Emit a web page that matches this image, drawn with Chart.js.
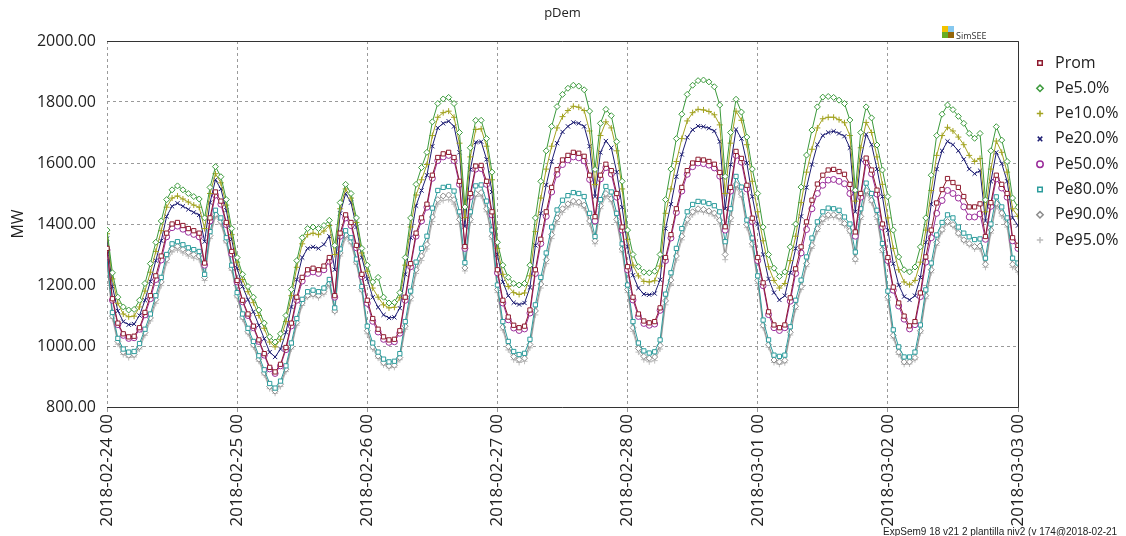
<!DOCTYPE html>
<html>
<head>
<meta charset="utf-8">
<title>pDem</title>
<script src="https://cdn.jsdelivr.net/npm/chart.js@4.4.0/dist/chart.umd.min.js"></script>
<style>
  html, body { margin: 0; padding: 0; background: #fff; }
  #wrap { position: relative; width: 1126px; height: 536px; }
</style>
</head>
<body>
<div id="wrap"><canvas id="chart" width="1126" height="536"></canvas></div>
<script>
// x tick labels, one per day (every 24 hourly samples)
const dayLabels = ["2018-02-24 00", "2018-02-25 00", "2018-02-26 00", "2018-02-27 00",
  "2018-02-28 00", "2018-03-01 00", "2018-03-02 00", "2018-03-03 00"];

const seriesNames = ["Prom", "Pe5.0%", "Pe10.0%", "Pe20.0%", "Pe50.0%", "Pe80.0%", "Pe90.0%", "Pe95.0%"];

// hourly demand in MW, one row per day
const prom = [
  1320,1155,1075,1040,1030,1032,1060,1110,1165,1230,1295,1370,1400,1405,1395,1385,1378,1370,1272,1420,1505,1475,1405,1310,
  1215,1150,1105,1065,1020,975,930,915,940,995,1075,1160,1225,1250,1255,1250,1262,1290,1165,1370,1430,1405,1330,1235,
  1150,1090,1055,1030,1020,1022,1050,1160,1270,1370,1420,1465,1560,1618,1630,1635,1618,1540,1326,1500,1590,1592,1540,1440,
  1250,1150,1095,1068,1060,1065,1118,1250,1350,1440,1520,1578,1610,1625,1635,1632,1622,1560,1424,1560,1596,1575,1500,1390,
  1260,1160,1105,1082,1076,1080,1125,1290,1365,1450,1520,1575,1600,1612,1610,1605,1596,1569,1391,1520,1638,1615,1527,1419,
  1290,1207,1112,1069,1060,1069,1158,1253,1325,1407,1478,1531,1560,1577,1579,1572,1563,1530,1374,1500,1616,1577,1511,1400,
  1290,1193,1141,1098,1066,1080,1174,1292,1380,1469,1513,1549,1536,1520,1490,1456,1456,1466,1359,1470,1560,1530,1500,1355,1330
];
const pe5 = [
  1380,1240,1160,1128,1118,1120,1150,1205,1270,1340,1410,1480,1512,1525,1512,1500,1490,1482,1420,1520,1588,1555,1480,1385,
  1290,1235,1195,1160,1118,1075,1030,1013,1040,1100,1185,1280,1355,1385,1390,1385,1395,1412,1330,1470,1530,1500,1420,1320,
  1265,1210,1225,1160,1141,1143,1175,1290,1420,1530,1585,1635,1735,1795,1810,1815,1795,1700,1456,1650,1740,1740,1680,1570,
  1340,1265,1225,1205,1200,1205,1265,1420,1540,1640,1720,1785,1825,1845,1855,1852,1840,1770,1579,1730,1776,1755,1670,1540,
  1380,1300,1260,1242,1240,1245,1300,1480,1580,1680,1760,1825,1855,1870,1872,1866,1850,1790,1556,1700,1809,1767,1685,1580,
  1500,1390,1300,1255,1228,1243,1325,1400,1521,1626,1708,1784,1816,1818,1815,1806,1795,1741,1511,1700,1784,1748,1659,1577,
  1490,1380,1292,1250,1243,1259,1325,1420,1560,1690,1760,1790,1775,1753,1730,1697,1681,1697,1479,1640,1719,1675,1605,1485,1455
];
const pe10 = [
  1368,1220,1140,1105,1096,1098,1128,1180,1242,1310,1378,1455,1485,1492,1482,1472,1462,1455,1385,1500,1565,1535,1462,1365,
  1275,1218,1178,1142,1100,1058,1013,997,1022,1080,1165,1258,1335,1365,1370,1365,1377,1395,1300,1450,1515,1485,1405,1305,
  1245,1190,1160,1135,1125,1127,1158,1265,1390,1495,1545,1595,1690,1750,1765,1770,1750,1665,1421,1620,1710,1712,1655,1545,
  1320,1235,1195,1175,1169,1174,1230,1375,1485,1580,1655,1715,1752,1772,1786,1783,1772,1705,1529,1690,1735,1715,1640,1515,
  1350,1265,1230,1212,1210,1214,1262,1435,1515,1605,1680,1738,1765,1776,1774,1769,1758,1725,1500,1665,1770,1740,1660,1540,
  1440,1345,1260,1215,1190,1205,1280,1360,1470,1570,1645,1715,1745,1750,1750,1742,1732,1690,1475,1650,1733,1700,1620,1530,
  1420,1320,1250,1210,1201,1215,1275,1380,1510,1625,1690,1717,1705,1685,1660,1625,1605,1615,1440,1580,1672,1635,1570,1450,1425
];
const pe20 = [
  1352,1195,1115,1080,1070,1072,1100,1150,1212,1280,1345,1425,1458,1468,1458,1448,1438,1430,1342,1470,1545,1515,1445,1350,
  1255,1195,1152,1112,1068,1024,980,964,990,1045,1128,1218,1290,1320,1325,1320,1333,1360,1250,1435,1500,1470,1390,1290,
  1220,1160,1127,1102,1092,1094,1124,1235,1355,1460,1510,1560,1655,1715,1730,1737,1720,1635,1392,1578,1668,1670,1612,1505,
  1300,1210,1165,1142,1136,1141,1192,1330,1435,1528,1605,1665,1702,1720,1733,1730,1720,1655,1490,1635,1672,1650,1570,1455,
  1325,1232,1190,1170,1168,1172,1217,1385,1465,1555,1628,1684,1709,1721,1719,1714,1705,1670,1450,1595,1710,1680,1600,1490,
  1400,1300,1220,1175,1151,1165,1240,1320,1425,1520,1595,1660,1690,1700,1704,1697,1688,1650,1440,1610,1694,1660,1580,1490,
  1380,1270,1200,1162,1151,1165,1225,1340,1465,1580,1640,1671,1660,1640,1612,1580,1565,1575,1410,1540,1635,1598,1540,1420,1395
];
const pe50 = [
  1315,1150,1070,1035,1025,1027,1055,1102,1155,1218,1282,1358,1388,1393,1383,1373,1366,1358,1265,1410,1495,1465,1398,1302,
  1210,1145,1100,1060,1015,970,925,910,935,988,1066,1150,1213,1238,1243,1238,1250,1278,1160,1360,1420,1395,1322,1228,
  1140,1081,1046,1022,1012,1014,1042,1150,1260,1360,1410,1455,1550,1608,1620,1625,1608,1530,1320,1490,1580,1582,1530,1430,
  1240,1141,1086,1059,1051,1056,1108,1238,1336,1425,1505,1563,1595,1610,1620,1617,1607,1546,1410,1548,1585,1564,1488,1380,
  1250,1151,1097,1074,1068,1072,1117,1280,1354,1438,1508,1563,1588,1600,1598,1593,1584,1557,1380,1508,1625,1603,1515,1408,
  1280,1198,1103,1060,1051,1060,1147,1238,1305,1382,1450,1500,1527,1544,1546,1540,1532,1500,1360,1488,1603,1565,1498,1390,
  1280,1183,1131,1088,1056,1070,1162,1275,1355,1435,1477,1510,1500,1485,1456,1423,1423,1433,1350,1458,1548,1518,1488,1345,1320
];
const pe80 = [
  1290,1110,1025,990,980,982,1008,1055,1105,1165,1225,1300,1335,1342,1332,1322,1316,1310,1235,1375,1445,1420,1355,1265,
  1175,1105,1058,1015,968,922,877,862,885,935,1010,1090,1153,1178,1183,1178,1190,1218,1125,1318,1378,1355,1285,1195,
  1065,1010,980,957,948,950,975,1080,1180,1275,1320,1360,1452,1510,1520,1523,1508,1440,1273,1440,1525,1528,1475,1380,
  1200,1080,1015,982,972,976,1022,1135,1225,1305,1390,1446,1478,1493,1503,1500,1490,1435,1359,1480,1523,1505,1435,1335,
  1200,1080,1010,984,977,981,1020,1170,1240,1320,1385,1440,1464,1474,1472,1467,1460,1440,1342,1450,1556,1521,1413,1354,
  1230,1085,1020,970,966,970,1063,1150,1216,1292,1354,1407,1440,1452,1450,1445,1423,1400,1308,1450,1534,1500,1445,1336,
  1180,1053,997,964,964,980,1069,1184,1272,1364,1405,1430,1420,1390,1370,1358,1349,1351,1288,1400,1489,1456,1420,1288,1272
];
const pe90 = [
  1280,1098,1015,980,970,972,998,1044,1092,1152,1210,1285,1320,1327,1317,1307,1300,1295,1225,1362,1432,1408,1345,1255,
  1165,1095,1047,1004,957,912,867,852,875,924,998,1077,1141,1166,1171,1166,1178,1206,1115,1305,1365,1343,1275,1185,
  1050,997,967,945,935,937,962,1065,1160,1250,1295,1333,1423,1480,1492,1495,1480,1415,1256,1415,1500,1503,1450,1360,
  1185,1062,998,965,956,960,1005,1115,1203,1283,1365,1420,1450,1466,1475,1472,1462,1410,1345,1460,1500,1483,1415,1318,
  1185,1060,992,966,960,964,1002,1148,1216,1295,1360,1415,1440,1450,1448,1443,1436,1412,1300,1420,1530,1498,1398,1335,
  1215,1068,1004,954,948,953,1045,1130,1195,1270,1330,1385,1418,1430,1430,1425,1402,1378,1285,1425,1510,1478,1425,1316,
  1160,1035,980,948,948,962,1050,1165,1250,1340,1382,1408,1398,1370,1348,1336,1326,1328,1268,1380,1468,1436,1400,1268,1252
];
const pe95 = [
  1272,1090,1006,972,962,964,990,1035,1082,1140,1198,1273,1308,1315,1305,1295,1288,1283,1215,1352,1425,1400,1338,1248,
  1158,1088,1040,997,950,905,860,845,867,916,990,1068,1133,1160,1163,1158,1170,1198,1110,1295,1355,1335,1268,1178,
  1040,990,960,938,928,930,955,1055,1148,1238,1280,1318,1408,1465,1477,1480,1465,1400,1246,1405,1490,1492,1440,1350,
  1175,1052,987,955,946,950,994,1102,1190,1270,1352,1408,1438,1455,1465,1462,1452,1400,1335,1450,1490,1473,1405,1308,
  1175,1048,980,955,948,952,990,1135,1203,1282,1348,1403,1430,1441,1439,1434,1426,1400,1283,1408,1520,1488,1388,1325,
  1205,1060,996,946,940,945,1036,1120,1185,1260,1320,1375,1408,1420,1422,1417,1395,1370,1277,1415,1500,1470,1415,1306,
  1150,1026,972,940,941,955,1042,1155,1240,1330,1375,1403,1392,1364,1342,1330,1318,1318,1258,1370,1458,1426,1390,1258,1242
];

const colors = ["#8e1a2e", "#3c9a3c", "#a3a320", "#1c1c72", "#9a2c9a", "#2c9c9c", "#8c8c8c", "#bdbdbd"];
const markers = ["rect", "rectRot", "cross", "crossRot", "circle", "rect", "rectRot", "cross"];
const allSeries = [prom, pe5, pe10, pe20, pe50, pe80, pe90, pe95];

Chart.defaults.font.family = "'Open Sans', sans-serif";
Chart.defaults.color = "#222";

const FONT = "'Open Sans', sans-serif";

// title, frame, legend, logo and footer
const decorations = {
  id: "decorations",
  afterDraw(chart) {
    const { ctx, chartArea: a } = chart;
    ctx.save();

    ctx.fillStyle = "#222";
    ctx.font = "13px " + FONT;
    ctx.textAlign = "center";
    ctx.textBaseline = "middle";
    ctx.fillText("pDem", (a.left + a.right) / 2, 13);

    // solid frame on top, right and bottom
    ctx.strokeStyle = "#333";
    ctx.lineWidth = 1;
    ctx.beginPath();
    ctx.moveTo(a.left, Math.round(a.top) + 0.5);
    ctx.lineTo(Math.round(a.right) + 0.5, Math.round(a.top) + 0.5);
    ctx.lineTo(Math.round(a.right) + 0.5, Math.round(a.bottom) + 0.5);
    ctx.lineTo(a.left, Math.round(a.bottom) + 0.5);
    ctx.stroke();

    // SimSEE mark
    ctx.fillStyle = "#f2c300"; ctx.fillRect(942, 26, 6, 6);
    ctx.fillStyle = "#86c8ef"; ctx.fillRect(948, 26, 6, 6);
    ctx.fillStyle = "#66ad22"; ctx.fillRect(942, 32, 6, 6);
    ctx.fillStyle = "#94650a"; ctx.fillRect(948, 32, 6, 6);
    ctx.fillStyle = "#333";
    ctx.font = "9px " + FONT;
    ctx.textAlign = "left";
    ctx.textBaseline = "alphabetic";
    ctx.fillText("SimSEE", 956, 39);

    // legend
    ctx.font = "16px " + FONT;
    ctx.textBaseline = "middle";
    seriesNames.forEach((name, i) => {
      const y = 63 + i * 25.3;
      ctx.strokeStyle = colors[i];
      ctx.fillStyle = "#fff";
      ctx.lineWidth = 1.5;
      Chart.helpers.drawPoint(ctx, { pointStyle: markers[i], radius: 3.2, borderWidth: 1.5, rotation: 0 }, 1040, y);
      ctx.fillStyle = "#222";
      ctx.fillText(name, 1055, y);
    });

    ctx.font = "10px 'Liberation Sans', sans-serif";
    ctx.fillStyle = "#222";
    ctx.textBaseline = "alphabetic";
    ctx.fillText("ExpSem9 18 v21 2 plantilla niv2 (v 174@2018-02-21", 883, 535);
    ctx.restore();
  }
};

const datasets = allSeries.map((values, i) => ({
  label: seriesNames[i],
  data: values.map((v, h) => ({ x: h, y: v })),
  borderColor: colors[i],
  borderWidth: 1,
  pointStyle: markers[i],
  pointRadius: 3,
  pointBorderWidth: 1,
  pointBorderColor: colors[i],
  pointBackgroundColor: "#fff",
  tension: 0
}));

new Chart(document.getElementById("chart"), {
  type: "line",
  data: { datasets },
  options: {
    responsive: false,
    animation: false,
    devicePixelRatio: 1,
    layout: { padding: { left: 0, right: 108, top: 41, bottom: 0 } },
    plugins: {
      legend: { display: false },
      tooltip: { enabled: false }
    },
    scales: {
      x: {
        type: "linear",
        min: 0,
        max: 168,
        afterFit(scale) { scale.height = 129; },
        grid: { color: "#9a9a9a", drawTicks: true, tickLength: 5, tickColor: "#9a9a9a" },
        border: { display: false, dash: [3, 3] },
        ticks: {
          stepSize: 24,
          autoSkip: false,
          maxRotation: 90,
          minRotation: 90,
          padding: 2,
          font: { size: 17 },
          callback: (v) => dayLabels[v / 24] || ""
        }
      },
      y: {
        min: 800,
        max: 2000,
        afterFit(scale) { scale.width = 107; },
        grid: { color: "#9a9a9a", drawTicks: false },
        border: { display: false, dash: [3, 3] },
        ticks: {
          stepSize: 200,
          padding: 11,
          font: { size: 16 },
          callback: (v) => v.toFixed(2)
        },
        title: { display: true, text: "MW", font: { size: 16 }, padding: { top: 9, bottom: 0 } }
      }
    }
  },
  plugins: [decorations]
});
</script>
</body>
</html>
